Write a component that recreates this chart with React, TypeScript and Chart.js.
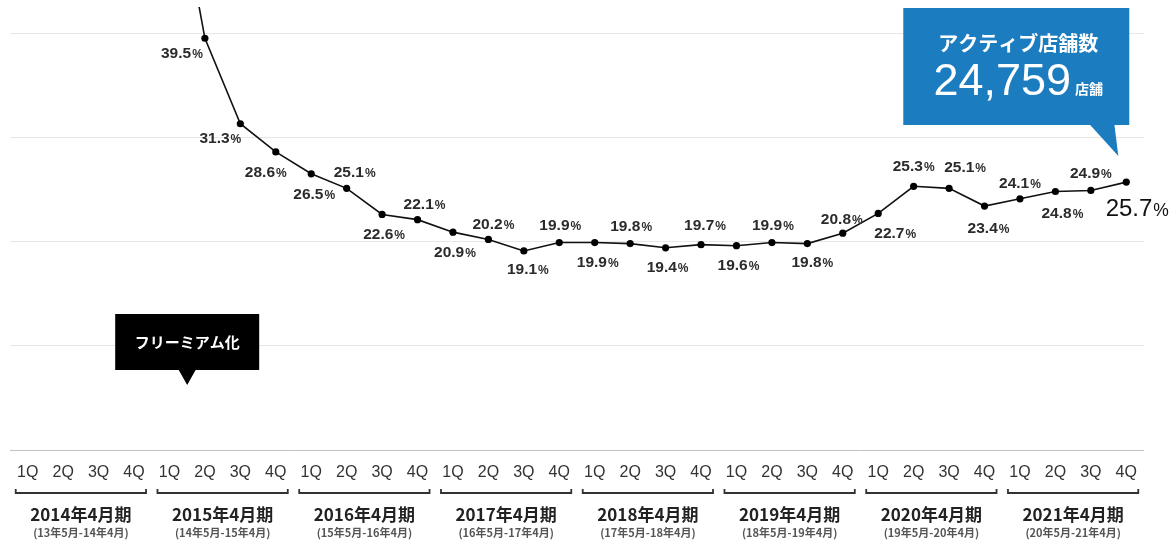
import React, { useEffect, useRef } from "react";
import { Chart, registerables } from "chart.js";

Chart.register(...registerables);

// ---------- data ----------
const fiscalYears = [
  "2014年4月期",
  "2015年4月期",
  "2016年4月期",
  "2017年4月期",
  "2018年4月期",
  "2019年4月期",
  "2020年4月期",
  "2021年4月期",
];
const fiscalRanges = [
  "(13年5月-14年4月)",
  "(14年5月-15年4月)",
  "(15年5月-16年4月)",
  "(16年5月-17年4月)",
  "(17年5月-18年4月)",
  "(18年5月-19年4月)",
  "(19年5月-20年4月)",
  "(20年5月-21年4月)",
];
const quarterNames = ["1Q", "2Q", "3Q", "4Q"];
const categories = fiscalYears.flatMap((y) => quarterNames.map((q) => `${y} ${q}`));

// share (%) per quarter; the 2015/1Q value lies above the visible area
const shareRates: (number | null)[] = [
  null, null, null, null,
  58.0, 39.5, 31.3, 28.6,
  26.5, 25.1, 22.6, 22.1,
  20.9, 20.2, 19.1, 19.9,
  19.9, 19.8, 19.4, 19.7,
  19.6, 19.9, 19.8, 20.8,
  22.7, 25.3, 25.1, 23.4,
  24.1, 24.8, 24.9, 25.7,
];
const labeledFromIndex = 5;
const yTicks = [0, 10, 20, 30, 40];
const yMax = 42.5;

const calloutTitle = "アクティブ店舗数";
const activeStores = 24759;
const activeStoresUnit = "店舗";
const freemiumLabel = "フリーミアム化";

// ---------- label placement (pixel offsets from point) ----------
const labelOffsets: ([number, number] | null)[] = [
  null, null, null, null,
  null, [-23, 14], [-20, 14], [-10, 20],
  [3, 20], [8, -17], [2, 19], [7, -16],
  [2, 19], [5, -16], [4, 18], [1, -18],
  [3, 19], [1, -18], [2, 19], [4, -20],
  [2, 19], [1, -18], [5, 18], [-1, -15],
  [17, 19], [0, -21], [16, -22], [4, 21],
  [0, -16], [7, 21], [0, -18], [11, 25],
];

const NUM = '"Liberation Sans", Arial, sans-serif';
const JP = '"Noto Sans CJK JP", "Noto Sans", sans-serif';
const BLUE = "#1c7cc0";

const overlayPlugin = {
  id: "overlay",
  afterDatasetsDraw(chart: any) {
    const ctx = chart.ctx as CanvasRenderingContext2D;
    const meta = chart.getDatasetMeta(0);
    const x = chart.scales.x;
    const area = chart.chartArea;
    ctx.save();

    // value labels
    meta.data.forEach((pt: any, i: number) => {
      const v = shareRates[i];
      const off = labelOffsets[i];
      if (v == null || i < labeledFromIndex || !off) return;
      const last = i === shareRates.length - 1;
      const big = last ? 24 : 15.5;
      const small = last ? 17.5 : 12;
      const weight = last ? 400 : 700;
      const num = v.toFixed(1);
      ctx.font = `${weight} ${big}px ${NUM}`;
      const w1 = ctx.measureText(num).width;
      ctx.font = `${weight} ${small}px ${NUM}`;
      const w2 = ctx.measureText("%").width;
      const cx = pt.x + off[0];
      const cy = pt.y + off[1];
      const base = cy + big * 0.36;
      const sx = cx - (w1 + w2 + 1) / 2;
      ctx.fillStyle = last ? "#111" : "#2b2b2b";
      ctx.textBaseline = "alphabetic";
      ctx.textAlign = "left";
      ctx.font = `${weight} ${big}px ${NUM}`;
      ctx.fillText(num, sx, base);
      ctx.font = `${weight} ${small}px ${NUM}`;
      ctx.fillText("%", sx + w1 + 1, base);
    });

    // x axis: quarter labels, brackets, fiscal years
    const step = x.getPixelForValue(1) - x.getPixelForValue(0);
    ctx.fillStyle = "#333";
    ctx.textAlign = "center";
    ctx.textBaseline = "middle";
    ctx.font = `400 16px ${NUM}`;
    categories.forEach((_c, i) => {
      ctx.fillText(quarterNames[i % 4], x.getPixelForValue(i), area.bottom + 23);
    });
    fiscalYears.forEach((fy, g) => {
      const x0 = x.getPixelForValue(g * 4) - 12;
      const x1 = x.getPixelForValue(g * 4 + 3) + 12;
      const by = area.bottom + 43;
      ctx.strokeStyle = "#333";
      ctx.lineWidth = 1.8;
      ctx.beginPath();
      ctx.moveTo(x0, by - 4);
      ctx.lineTo(x0, by);
      ctx.lineTo(x1, by);
      ctx.lineTo(x1, by - 4);
      ctx.stroke();
      const cx = (x0 + x1) / 2;
      ctx.fillStyle = "#222";
      ctx.font = `700 17px ${JP}`;
      ctx.fillText(fy, cx, area.bottom + 65);
      ctx.fillStyle = "#555";
      ctx.font = `700 11px ${JP}`;
      ctx.fillText(fiscalRanges[g], cx, area.bottom + 83);
    });

    // freemium callout (between 2015 1Q and 2Q)
    const fx = x.getPixelForValue(4) + step / 2;
    const fy = area.bottom - 65;
    ctx.fillStyle = "#000";
    ctx.beginPath();
    ctx.rect(fx - 72, fy - 71, 144, 56);
    ctx.fill();
    ctx.beginPath();
    ctx.moveTo(fx - 9, fy - 16);
    ctx.lineTo(fx + 9, fy - 16);
    ctx.lineTo(fx, fy);
    ctx.closePath();
    ctx.fill();
    ctx.fillStyle = "#fff";
    ctx.font = `700 15px ${JP}`;
    ctx.textAlign = "center";
    ctx.textBaseline = "middle";
    ctx.fillText(freemiumLabel, fx, fy - 43);

    // active stores callout (tail pointing to last point)
    const lp = meta.data[meta.data.length - 1];
    const tx = lp.x - 8;
    const ty = lp.y - 26;
    const bl = tx - 215;
    const br = tx + 11;
    const bt = ty - 148;
    const bb = ty - 31;
    ctx.fillStyle = BLUE;
    ctx.beginPath();
    ctx.rect(bl, bt, br - bl, bb - bt);
    ctx.fill();
    ctx.beginPath();
    ctx.moveTo(tx - 29, bb - 1);
    ctx.lineTo(tx - 4, bb - 1);
    ctx.lineTo(tx, ty);
    ctx.closePath();
    ctx.fill();
    const bcx = (bl + br) / 2 + 2;
    ctx.fillStyle = "#fff";
    ctx.textAlign = "center";
    ctx.textBaseline = "middle";
    ctx.font = `700 20px ${JP}`;
    ctx.fillText(calloutTitle, bcx, bt + 35);
    const numText = activeStores.toLocaleString("en-US");
    ctx.font = `400 45px ${NUM}`;
    const nw = ctx.measureText(numText).width;
    ctx.font = `700 14px ${JP}`;
    const uw = ctx.measureText(activeStoresUnit).width;
    const gx = bcx - (nw + uw + 4) / 2;
    const baseY = bt + 87;
    ctx.textAlign = "left";
    ctx.textBaseline = "alphabetic";
    ctx.font = `400 45px ${NUM}`;
    ctx.fillText(numText, gx, baseY);
    ctx.font = `700 14px ${JP}`;
    ctx.fillText(activeStoresUnit, gx + nw + 4, baseY - 1);

    ctx.restore();
  },
};

export default function App() {
  const ref = useRef<HTMLCanvasElement | null>(null);

  useEffect(() => {
    if (!ref.current) return;
    const chart = new Chart(ref.current, {
      type: "line",
      data: {
        labels: categories,
        datasets: [
          {
            data: shareRates,
            borderColor: "#111",
            borderWidth: 1.6,
            pointRadius: 3.6,
            pointBackgroundColor: "#000",
            pointBorderColor: "#000",
            pointBorderWidth: 0,
            tension: 0,
            spanGaps: false,
          },
        ],
      },
      options: {
        responsive: false,
        animation: false,
        devicePixelRatio: 1,
        layout: { padding: { left: 10, right: 31, top: 7, bottom: 91 } },
        plugins: { legend: { display: false }, tooltip: { enabled: false } },
        scales: {
          x: { type: "category", display: false, offset: true },
          y: {
            min: 0,
            max: yMax,
            border: { display: false },
            ticks: { display: false },
            grid: {
              drawTicks: false,
              lineWidth: 1,
              color: (c: any) => (c.tick && c.tick.value === 0 ? "#c2c2c2" : "#e6e6e6"),
            },
            afterBuildTicks: (scale: any) => {
              scale.ticks = yTicks.map((v) => ({ value: v }));
            },
          },
        },
      },
      plugins: [overlayPlugin],
    });
    return () => chart.destroy();
  }, []);

  return (
    <div style={{ position: "absolute", left: 0, top: 0, width: 1175, height: 541, background: "#fff" }}>
      <canvas ref={ref} width={1175} height={541} style={{ width: 1175, height: 541 }} />
    </div>
  );
}
